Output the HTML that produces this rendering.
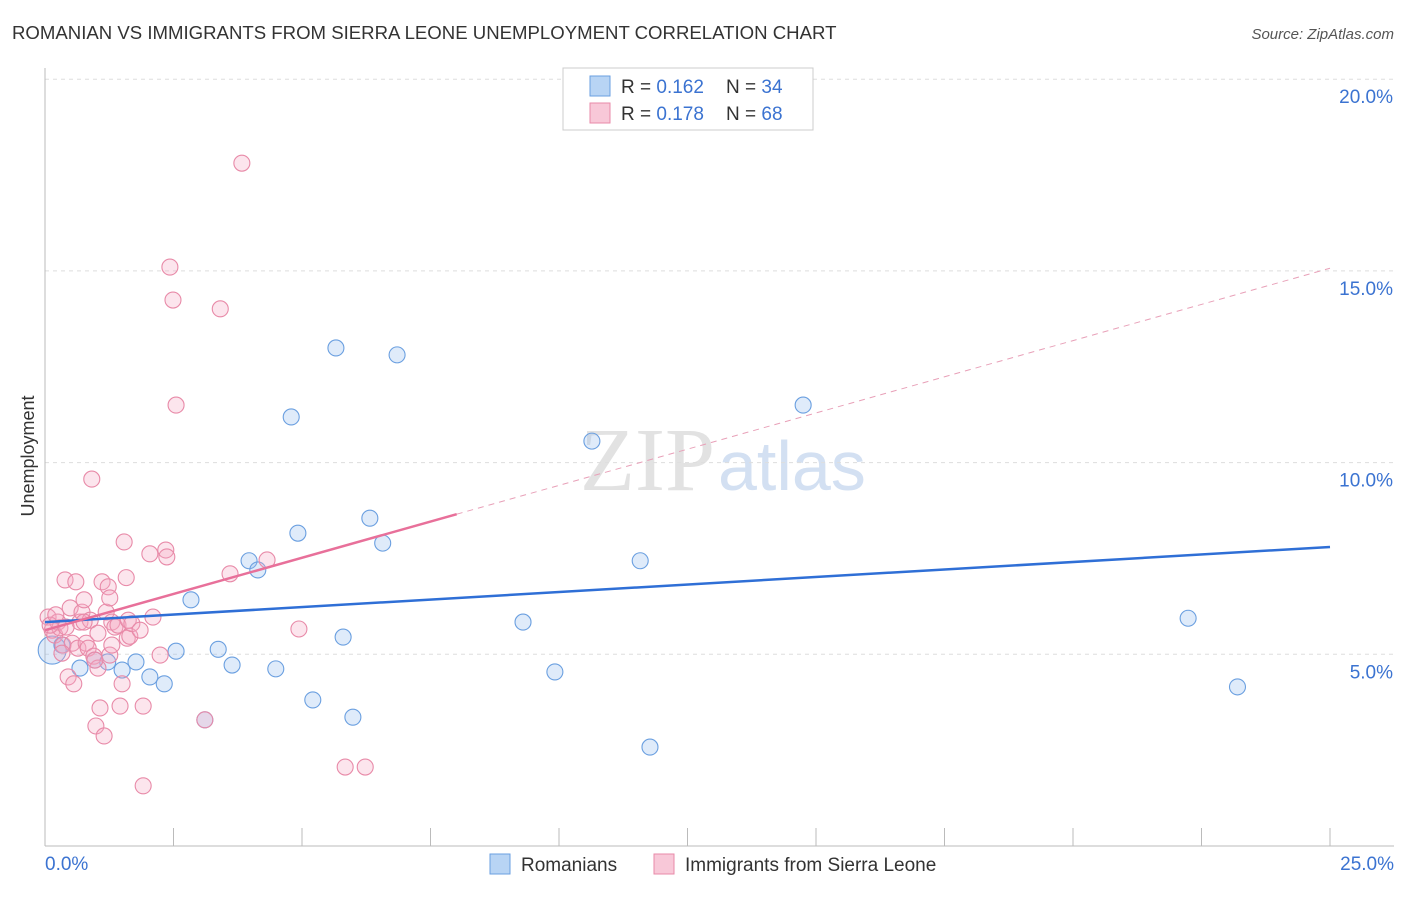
<!DOCTYPE html>
<html><head><meta charset="utf-8"><style>
body{margin:0;background:#fff;font-family:"Liberation Sans",sans-serif}
#wrap{position:relative;width:1406px;height:892px}
</style></head><body>
<div id="wrap">
<svg id="svg" width="1406" height="892">
<text x="12" y="39" font-size="18.6" fill="#333">ROMANIAN VS IMMIGRANTS FROM SIERRA LEONE UNEMPLOYMENT CORRELATION CHART</text>
<text x="1394" y="39" font-size="15" fill="#555" font-style="italic" text-anchor="end">Source: ZipAtlas.com</text>
<text x="34" y="456" font-size="18" fill="#333" text-anchor="middle" transform="rotate(-90 34 456)">Unemployment</text>
<text x="715" y="490" font-size="90" fill="#e2e2e2" text-anchor="end" font-family="Liberation Serif">ZIP</text>
<text x="718" y="490" font-size="70" fill="#d3e0f2">atlas</text>
<g id="grid"></g><g id="pts"></g><g id="lines"></g>
<g>
<rect x="563" y="68" width="250" height="62" fill="#fff" stroke="#ccc"/>
<rect x="590" y="76" width="20" height="20" fill="#b8d4f4" stroke="#6a9fe0"/>
<text x="621" y="93" font-size="19" fill="#333">R = <tspan fill="#3b73d1">0.162</tspan></text>
<text x="726" y="93" font-size="19" fill="#333">N = <tspan fill="#3b73d1">34</tspan></text>
<rect x="590" y="103" width="20" height="20" fill="#f8c8d8" stroke="#e88aa8"/>
<text x="621" y="120" font-size="19" fill="#333">R = <tspan fill="#3b73d1">0.178</tspan></text>
<text x="726" y="120" font-size="19" fill="#333">N = <tspan fill="#3b73d1">68</tspan></text>
</g>
<g>
<rect x="490" y="854" width="20" height="20" fill="#b8d4f4" stroke="#6a9fe0"/>
<text x="521" y="871" font-size="19" fill="#333">Romanians</text>
<rect x="654" y="854" width="20" height="20" fill="#f8c8d8" stroke="#e88aa8"/>
<text x="685" y="871" font-size="19" fill="#333">Immigrants from Sierra Leone</text>
</g>
</svg></div>
<script>
const yTicks=[5,10,15,20];
const xTickLabels=["0.0%","25.0%"];
const blueX=[0.14,0.33,0.68,0.97,1.22,1.5,1.77,2.04,2.32,2.55,2.84,3.11,3.37,3.64,3.97,4.14,4.49,4.79,4.92,5.21,5.66,5.8,5.99,6.32,6.57,6.85,9.3,9.92,10.64,11.58,11.77,14.75,22.24,23.2];
const blueY=[5.11,5.24,4.64,4.85,4.8,4.59,4.8,4.41,4.23,5.08,6.42,3.29,5.13,4.72,7.44,7.2,4.62,11.19,8.16,3.81,12.99,5.45,3.36,8.55,7.9,12.81,5.84,4.54,10.56,7.44,2.58,11.5,5.94,4.15];
const pinkX=[0.06,0.14,0.19,0.25,0.29,0.35,0.39,0.45,0.49,0.53,0.56,0.6,0.64,0.68,0.72,0.76,0.8,0.84,0.88,0.91,0.95,0.99,1.03,1.07,1.11,1.15,1.19,1.23,1.26,1.3,1.36,1.42,1.46,1.5,1.54,1.58,1.6,1.62,1.65,1.91,1.91,2.04,2.1,2.24,2.35,2.37,2.43,2.49,2.55,3.11,3.41,3.6,3.83,4.32,4.94,5.84,6.23,0.1,0.21,0.33,0.41,0.76,0.97,1.26,1.69,1.85,1.3,1.03];
const pinkY=[5.97,5.63,5.5,5.84,5.69,5.24,6.94,4.41,6.21,5.29,4.23,6.89,5.16,5.84,6.1,6.42,5.29,5.16,5.89,9.57,4.95,3.13,4.64,3.6,6.89,2.87,6.1,6.76,6.47,5.84,5.71,5.76,3.65,4.23,7.93,7.0,5.42,5.89,5.47,3.65,1.57,7.62,5.97,4.98,7.72,7.54,15.1,14.24,11.5,3.29,14.01,7.1,17.81,7.46,5.66,2.06,2.06,5.76,6.03,5.03,5.71,5.84,4.85,4.98,5.8,5.63,5.24,5.55];
const blueLine=[5.84,7.8];
const pinkLine=[5.63,15.07];
const pinkSolidEnd=8.01;
const X=v=>45+v*51.4, Y=v=>846-v*38.34;
const NS="http://www.w3.org/2000/svg";
function mk(t,a,p){const e=document.createElementNS(NS,t);for(const k in a)e.setAttribute(k,a[k]);p.appendChild(e);return e;}
const g=document.getElementById('grid');
yTicks.forEach(t=>{
 const l=mk('line',{x1:45,x2:1394,y1:Y(t),y2:Y(t),stroke:'#ddd','stroke-dasharray':'4,4'},g);
 
 
 const tx=mk('text',{x:1393,y:Y(t)+24,'font-size':19,fill:'#3b73d1','text-anchor':'end'},g);tx.textContent=t.toFixed(1)+'%';
 
 
});
mk('line',{x1:45,x2:45,y1:68,y2:846,stroke:'#bbb'},g);
mk('line',{x1:45,x2:1394,y1:846,y2:846,stroke:'#bbb'},g);
for(let i=0;i<=10;i++){const t=mk('line',{x1:X(i*2.5),x2:X(i*2.5),y1:828,y2:846,stroke:'#bbb'},g);
 
 }
[[0,'start'],[25,'end']].forEach((d,i)=>{const t=mk('text',{x:i?1394:45,y:870,'font-size':19,fill:'#3b73d1','text-anchor':d[1]},g);t.textContent=xTickLabels[i];
 
 });
const p=document.getElementById('pts');
blueX.forEach((v,i)=>{const c=mk('circle',{cx:X(v),cy:Y(blueY[i]),r:i==0?14:8,fill:'rgba(150,190,240,0.3)',stroke:'#6a9fe0','stroke-width':1.1},p);
 
 });
pinkX.forEach((v,i)=>{const c=mk('circle',{cx:X(v),cy:Y(pinkY[i]),r:8,fill:'rgba(245,170,195,0.3)',stroke:'#e88aa8','stroke-width':1.1},p);
 
 });
const L=document.getElementById('lines');
const bl=mk('line',{x1:X(0),y1:Y(blueLine[0]),x2:X(25),y2:Y(blueLine[1]),stroke:'#2f6fd6','stroke-width':2.5},L);


const pm=(pinkLine[1]-pinkLine[0])/25;
const pl=mk('line',{x1:X(0),y1:Y(pinkLine[0]),x2:X(pinkSolidEnd),y2:Y(pinkLine[0]+pm*pinkSolidEnd),stroke:'#e8709a','stroke-width':2.5},L);


const pd=mk('line',{x1:X(pinkSolidEnd),y1:Y(pinkLine[0]+pm*pinkSolidEnd),x2:X(25),y2:Y(pinkLine[1]),stroke:'#e8a0b8','stroke-width':1,'stroke-dasharray':'6,5'},L);


</script>
</body></html>
